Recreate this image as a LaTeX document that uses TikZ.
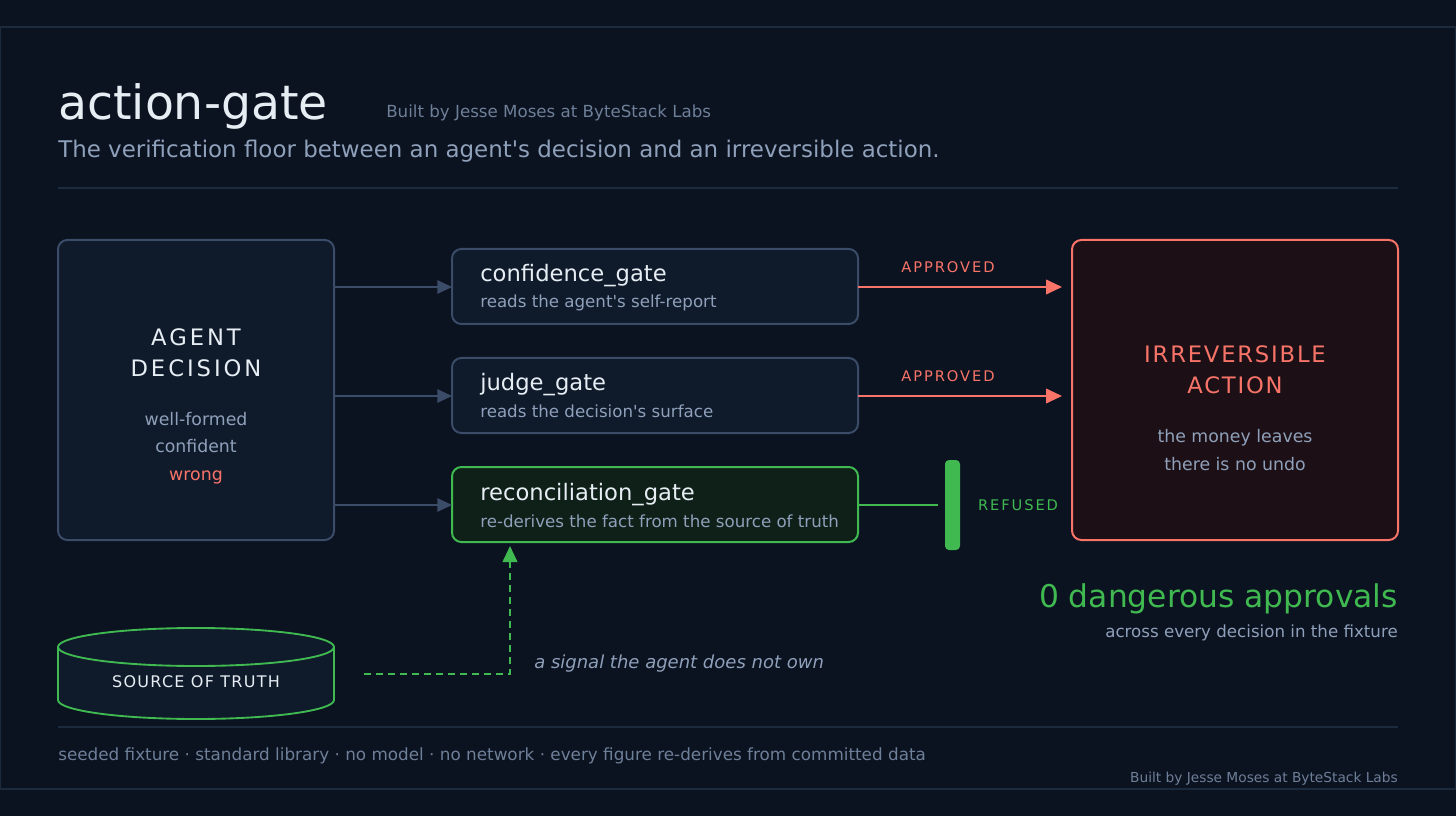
\documentclass[tikz,border=0pt]{standalone}
\usepackage{fontspec}
\setmainfont{DejaVu Sans}[Ligatures=TeXOff]
\usetikzlibrary{arrows.meta,shapes.geometric}
\newcommand{\spc}[1]{\addfontfeature{LetterSpace=#1}}
\definecolor{bg}{HTML}{0B1220}
\definecolor{panelline}{HTML}{1C2A3E}
\definecolor{boxfill}{HTML}{0F1A2B}
\definecolor{boxline}{HTML}{3B4C69}
\definecolor{redc}{HTML}{F87468}
\definecolor{redfill}{HTML}{1C1016}
\definecolor{greenc}{HTML}{3FB950}
\definecolor{greenfill}{HTML}{0F2019}
\definecolor{txt}{HTML}{E6EDF3}
\definecolor{sub}{HTML}{8FA0BA}
\definecolor{dim}{HTML}{6E7F98}
\tikzset{
 px/.style={x=0.75pt,y=-0.75pt},
 box/.style={draw=boxline,fill=boxfill,line width=1.5pt,rounded corners=7pt},
 link/.style={draw=boxline,line width=1.4pt,-{Triangle[length=11pt,width=10pt]}},
 redlink/.style={draw=redc,line width=1.4pt,-{Triangle[length=12pt,width=11pt]}},
 lbl/.style={inner sep=0pt,anchor=base west},
}
\begin{document}
\begin{tikzpicture}[px]
\useasboundingbox (0,0) rectangle (1456,816);
\fill[bg] (0,0) rectangle (1456,816);
\draw[panelline,line width=0.8pt] (0,27) rectangle (1456,789);
% header
\node[lbl,text=txt,font=\fontsize{35.5}{40}\selectfont] (title) at (58,120) {action-gate};
\node[lbl,text=dim,font=\fontsize{12.5}{15}\selectfont] (by) at (386,118) {Built by Jesse Moses at ByteStack Labs};
\node[lbl,text=sub,font=\fontsize{17.2}{19}\selectfont] (desc) at (58,158) {The verification floor between an agent's decision and an irreversible action.};
\draw[panelline,line width=1.5pt] (58,188) -- (1398,188);
% agent
\draw[box] (58,240) rectangle (334,540);
\node[text=txt,font=\fontsize{17}{23}\selectfont\spc{13},align=center] (agent) at (196,353) {AGENT\\DECISION};
\node[text=sub,font=\fontsize{13}{20.5}\selectfont,align=center] (agtxt) at (196,448) {well-formed\\confident\\\textcolor{redc}{wrong}};
% gates
\draw[box] (452,249) rectangle (858,324);
\draw[box] (452,358) rectangle (858,433);
\draw[box,draw=greenc,fill=greenfill] (452,467) rectangle (858,542);
\node[lbl,text=txt,font=\fontsize{17}{20}\selectfont] (g1) at (480,282) {confidence\_gate};
\node[lbl,text=sub,font=\fontsize{12.5}{15}\selectfont] (g1s) at (480,308) {reads the agent's self-report};
\node[lbl,text=txt,font=\fontsize{17}{20}\selectfont] (g2) at (480,391) {judge\_gate};
\node[lbl,text=sub,font=\fontsize{12.5}{15}\selectfont] (g2s) at (480,417) {reads the decision's surface};
\node[lbl,text=txt,font=\fontsize{17}{20}\selectfont] (g3) at (480,500) {reconciliation\_gate};
\node[lbl,text=sub,font=\fontsize{12.5}{15}\selectfont] (g3s) at (480,527) {re-derives the fact from the source of truth};
\coordinate (a1) at (334,287); \coordinate (b1) at (452,287);
\coordinate (a2) at (334,396); \coordinate (b2) at (452,396);
\coordinate (a3) at (334,505); \coordinate (b3) at (452,505);
\draw[link] (a1) -- (b1);
\draw[link] (a2) -- (b2);
\draw[link] (a3) -- (b3);
% outputs
\coordinate (r1) at (858,287); \coordinate (t1) at (1062,287);
\coordinate (r2) at (858,396); \coordinate (t2) at (1062,396);
\draw[redlink] (r1) -- (t1);
\draw[redlink] (r2) -- (t2);
\node[text=redc,font=\fontsize{11}{13}\selectfont\spc{13}] (ap1) at (948,267) {APPROVED};
\node[text=redc,font=\fontsize{11}{13}\selectfont\spc{13}] (ap2) at (948,376) {APPROVED};
\coordinate (r3) at (858,505); \coordinate (t3) at (938,505);
\draw[greenc,line width=1.4pt] (r3) -- (t3);
\fill[greenc,rounded corners=3pt] (945,460) rectangle (960,550);
\node[text=greenc,font=\fontsize{11}{13}\selectfont\spc{13}] (ref) at (1018,505) {REFUSED};
% irreversible
\draw[box,draw=redc,fill=redfill] (1072,240) rectangle (1398,540);
\node[text=redc,font=\fontsize{17}{23}\selectfont\spc{8},align=center] (irr) at (1235,370) {IRREVERSIBLE\\ACTION};
\node[text=sub,font=\fontsize{13}{20.5}\selectfont,align=center] (irrs) at (1235,450) {the money leaves\\there is no undo};
\node[anchor=base east,inner sep=0pt,text=greenc,font=\fontsize{23.5}{27}\selectfont] (zero) at (1398,607) {0 dangerous approvals};
\node[anchor=base east,inner sep=0pt,text=sub,font=\fontsize{12.5}{15}\selectfont] (zeros) at (1398,637) {across every decision in the fixture};
% cylinder
\draw[greenc,fill=boxfill,line width=1.4pt] (58,647) -- (58,700) arc[start angle=180,end angle=0,x radius=138,y radius=19] -- (334,647);
\draw[greenc,fill=boxfill,line width=1.4pt] (196,647) ellipse[x radius=138,y radius=19];
\node[text=txt,font=\fontsize{12}{14}\selectfont\spc{8}] (src) at (196,682) {SOURCE OF TRUTH};
\coordinate (d0) at (364,674); \coordinate (d1) at (510,674); \coordinate (d2) at (510,546);
\draw[greenc,line width=1.4pt,dash pattern=on 5pt off 4pt,-{Triangle[length=12pt,width=11pt]}] (d0) -- (d1) -- (d2);
\node[lbl,text=sub,font=\itshape\fontsize{13.5}{15}\selectfont] (sig) at (534,668) {a signal the agent does not own};
% footer
\draw[panelline,line width=1.5pt] (58,727) -- (1398,727);
\node[lbl,text=dim,font=\fontsize{12.6}{15}\selectfont] (foot) at (58,760) {seeded fixture · standard library · no model · no network · every figure re-derives from committed data};
\node[anchor=base east,inner sep=0pt,text=dim,font=\fontsize{10.3}{12}\selectfont] (foot2) at (1398,782) {Built by Jesse Moses at ByteStack Labs};
\end{tikzpicture}
\end{document}
